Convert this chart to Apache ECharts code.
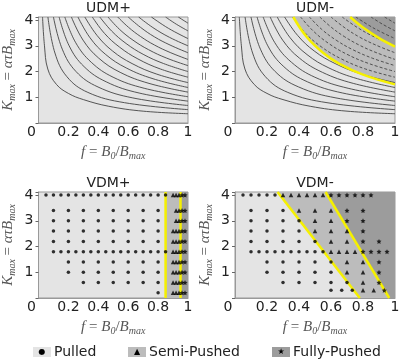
<!DOCTYPE html>
<html>
<head>
<meta charset="utf-8">
<script src="https://cdn.jsdelivr.net/npm/echarts@6/dist/echarts.min.js"></script>
<style>
  html, body { margin: 0; padding: 0; background: #fff; }
  #chart { width: 415px; height: 360px; }
</style>
</head>
<body>
<div id="chart"></div>
<script>
  // panel titles and legend
  var titles = ['UDM+', 'UDM-', 'VDM+', 'VDM-'];
  var legendNames = ['Pulled', 'Semi-Pushed', 'Fully-Pushed'];
  var kTop = 4.12;

  // contour lines of the UDM panels, [f, K]
  var udmCurves = [
    [[0.027, 4.12], [0.04, 3.0], [0.062, 2.1], [0.12, 1.5], [0.2, 1.15], [0.3, 0.91], [0.47, 0.65], [0.7, 0.46], [1, 0.36]],
    [[0.063, 4.12], [0.11, 2.72], [0.19, 1.8], [0.33, 1.19], [0.575, 0.79], [1, 0.52]],
    [[0.1, 4.12], [0.159, 2.87], [0.251, 2.0], [0.398, 1.4], [0.631, 0.975], [1, 0.68]],
    [[0.138, 4.12], [0.205, 3.0], [0.305, 2.19], [0.453, 1.6], [0.673, 1.165], [1, 0.85]],
    [[0.176, 4.12], [0.249, 3.12], [0.353, 2.36], [0.499, 1.78], [0.707, 1.35], [1, 1.02]],
    [[0.22, 4.12], [0.298, 3.22], [0.403, 2.52], [0.546, 1.97], [0.739, 1.54], [1, 1.2]],
    [[0.264, 4.12], [0.345, 3.31], [0.45, 2.66], [0.587, 2.14], [0.766, 1.72], [1, 1.38]],
    [[0.31, 4.12], [0.392, 3.4], [0.495, 2.8], [0.626, 2.31], [0.791, 1.9], [1, 1.57]],
    [[0.36, 4.12], [0.442, 3.48], [0.542, 2.95], [0.665, 2.49], [0.815, 2.1], [1, 1.78]],
    [[0.41, 4.12], [0.49, 3.57], [0.586, 3.09], [0.7, 2.67], [0.837, 2.31], [1, 2.0]],
    [[0.465, 4.12], [0.542, 3.64], [0.632, 3.22], [0.736, 2.85], [0.858, 2.52], [1, 2.23]],
    [[0.53, 4.12], [0.602, 3.72], [0.683, 3.36], [0.776, 3.03], [0.881, 2.74], [1, 2.47]],
    [[0.6, 4.12], [0.682, 3.72], [0.775, 3.35], [0.88, 3.03], [1, 2.73]],
    [[0.67, 4.12], [0.765, 3.71], [0.876, 3.33], [1, 3.0]],
    [[0.755, 4.12], [0.869, 3.68], [1, 3.28]],
    [[0.85, 4.12], [0.922, 3.84], [1, 3.58]],
    [[0.935, 4.12], [0.967, 4.0], [1, 3.88]]
  ];
  var udmMinusSolidCount = 8;

  // yellow borders
  var udmMinusBorder1 = [[0.364, 4.12], [0.45, 3.33], [0.55, 2.73], [0.65, 2.31], [0.8, 1.88], [1, 1.5]];
  var udmMinusBorder2 = [[0.72, 4.12], [0.8, 3.71], [0.9, 3.3], [1, 2.97]];
  var vdmPlusBorder1 = [[0.85, 0], [0.85, 4.12]];
  var vdmPlusBorder2 = [[0.95, 0], [0.95, 4.12]];
  var vdmMinusBorder1 = [[0.266, 4.12], [0.78, 0]];
  var vdmMinusBorder2 = [[0.566, 4.12], [0.964, 0]];

  // VDM+ simulations: K of each row, f of the markers in that row
  var vdmPlusRows = [4, 3.4, 3, 2.6, 2.2, 1.8, 1.4, 1, 0.6, 0.2];
  var vdmPlusPulled = [
    [0.05, 0.1, 0.15, 0.2, 0.25, 0.3, 0.35, 0.4, 0.45, 0.5, 0.55, 0.6, 0.65, 0.7, 0.75, 0.8, 0.85],
    [0.1, 0.2, 0.3, 0.4, 0.5, 0.6, 0.7, 0.8],
    [0.1, 0.2, 0.3, 0.4, 0.5, 0.6, 0.7, 0.8],
    [0.1, 0.2, 0.3, 0.4, 0.5, 0.6, 0.7, 0.8],
    [0.1, 0.2, 0.3, 0.4, 0.5, 0.6, 0.7, 0.8],
    [0.1, 0.15, 0.2, 0.25, 0.3, 0.35, 0.4, 0.45, 0.5, 0.55, 0.6, 0.65, 0.7, 0.75, 0.8, 0.85],
    [0.2, 0.3, 0.4, 0.5, 0.6, 0.7, 0.8],
    [0.2, 0.3, 0.4, 0.5, 0.6, 0.7, 0.8],
    [0.3, 0.4, 0.5, 0.6, 0.7, 0.8],
    [0.8]
  ];
  var vdmPlusSemi = [
    [0.9, 0.92, 0.94], [0.92, 0.94], [0.92, 0.94], [0.9, 0.92, 0.94], [0.9, 0.92, 0.94],
    [0.9, 0.92, 0.94], [0.9, 0.92, 0.94], [0.9, 0.92, 0.94], [0.9, 0.92, 0.94], [0.9, 0.92, 0.94]
  ];
  var vdmPlusFully = [
    [0.96, 0.98], [0.96, 0.98], [0.96, 0.98], [0.96, 0.98], [0.96, 0.98],
    [0.96, 0.98], [0.96, 0.98], [0.96, 0.98], [0.96, 0.98], [0.96, 0.98]
  ];

  // VDM- simulations
  var vdmMinusRows = [4, 3.4, 3, 2.6, 2.2, 1.8, 1.4, 1, 0.6, 0.3];
  var vdmMinusPulled = [
    [0.05, 0.1, 0.15, 0.2, 0.25],
    [0.1, 0.2, 0.3],
    [0.1, 0.2, 0.3, 0.4],
    [0.1, 0.2, 0.3, 0.4],
    [0.1, 0.2, 0.3, 0.4, 0.5],
    [0.1, 0.15, 0.2, 0.25, 0.3, 0.35, 0.4, 0.45, 0.5, 0.55],
    [0.2, 0.3, 0.4, 0.5, 0.6],
    [0.2, 0.3, 0.4, 0.5, 0.6],
    [0.3, 0.4, 0.5, 0.6, 0.7],
    [0.6, 0.667, 0.733]
  ];
  var vdmMinusSemi = [
    [0.3, 0.35, 0.4, 0.45, 0.5, 0.55],
    [0.4, 0.5, 0.6],
    [0.5, 0.6],
    [0.5, 0.6, 0.7],
    [0.6, 0.7],
    [0.6, 0.65, 0.7, 0.75],
    [0.7, 0.8],
    [0.7, 0.8],
    [0.8],
    [0.8, 0.867]
  ];
  var vdmMinusFully = [
    [0.6, 0.65, 0.7, 0.75, 0.8, 0.85],
    [0.7, 0.8],
    [0.7, 0.8],
    [0.8],
    [0.8, 0.9],
    [0.8, 0.85, 0.9, 0.95],
    [0.9],
    [0.9],
    [0.9],
    [0.933]
  ];

  var LIGHT = '#e4e4e4', MID = '#bcbcbc', DARK = '#9c9c9c', YELLOW = '#f5f000';
  var STAR = 'path://M0,-10L2.9,-4L9.5,-3.1L4.7,1.5L5.9,8.1L0,5L-5.9,8.1L-4.7,1.5L-9.5,-3.1L-2.9,-4Z';
  var FONT = 'DejaVu Sans';

  var chart = echarts.init(document.getElementById('chart'));

  var gridPos = [
    {left: 29, top: 17, width: 159, height: 106},
    {left: 235, top: 17, width: 160, height: 106},
    {left: 29, top: 192, width: 159, height: 106},
    {left: 235, top: 192, width: 160, height: 106}
  ];

  var nameRich = {
    i: {fontFamily: 'Liberation Serif', fontStyle: 'italic', fontSize: 15, lineHeight: 18, color: '#555'},
    n: {fontFamily: 'Liberation Serif', fontSize: 15, lineHeight: 18, color: '#555'},
    s: {fontFamily: 'Liberation Serif', fontStyle: 'italic', fontSize: 10, lineHeight: 10, verticalAlign: 'bottom', color: '#555'}
  };

  function toPoints(rows, lists) {
    var pts = []
    rows.forEach(function (k, i) {
      lists[i].forEach(function (f) { pts.push([f, k]) })
    })
    return pts
  }

  function areaSeries(gi, data, color, smooth) {
    return {
      type: 'line', xAxisIndex: gi, yAxisIndex: gi, data: data, smooth: smooth || false,
      symbol: 'none', silent: true, z: 1,
      lineStyle: {width: 0},
      areaStyle: {color: color, opacity: 1, origin: 'end'}
    }
  }

  function lineSeries(gi, data, color, width, type, smooth, z) {
    return {
      type: 'line', xAxisIndex: gi, yAxisIndex: gi, data: data, smooth: smooth || false,
      symbol: 'none', silent: true, z: z || 3,
      lineStyle: {color: color, width: width, type: type || 'solid'}
    }
  }

  function scatterSeries(gi, data, symbol, size) {
    return {
      type: 'scatter', xAxisIndex: gi, yAxisIndex: gi, data: data,
      symbol: symbol, symbolSize: size, silent: true, z: 5,
      itemStyle: {color: '#000'}
    }
  }

  var series = []
  // UDM+
  udmCurves.forEach(function (c) { series.push(lineSeries(0, c, '#444', 0.9, 'solid', 0.4)) })
  // UDM-
  series.push(areaSeries(1, udmMinusBorder1, MID, 0.4))
  series.push(areaSeries(1, udmMinusBorder2, DARK, 0.4))
  udmCurves.forEach(function (c, i) {
    series.push(lineSeries(1, c, '#444', 0.9, i < udmMinusSolidCount ? 'solid' : [3, 2], 0.4))
  })
  series.push(lineSeries(1, udmMinusBorder1, YELLOW, 2.5, 'solid', 0.4, 4))
  series.push(lineSeries(1, udmMinusBorder2, YELLOW, 2.5, 'solid', 0.4, 4))
  // VDM+
  series.push(areaSeries(2, [[vdmPlusBorder1[0][0], 0], [1, 0]], MID))
  series.push(areaSeries(2, [[vdmPlusBorder2[0][0], 0], [1, 0]], DARK))
  series.push(lineSeries(2, vdmPlusBorder1, YELLOW, 2.5, 'solid', false, 4))
  series.push(lineSeries(2, vdmPlusBorder2, YELLOW, 2.5, 'solid', false, 4))
  series.push(scatterSeries(2, toPoints(vdmPlusRows, vdmPlusPulled), 'circle', 3.5))
  series.push(scatterSeries(2, toPoints(vdmPlusRows, vdmPlusSemi), 'triangle', 4.5))
  series.push(scatterSeries(2, toPoints(vdmPlusRows, vdmPlusFully), STAR, 5))
  // VDM-
  series.push(areaSeries(3, vdmMinusBorder1.concat([[1, 0]]), MID))
  series.push(areaSeries(3, vdmMinusBorder2.concat([[1, 0]]), DARK))
  series.push(lineSeries(3, vdmMinusBorder1, YELLOW, 2.5, 'solid', false, 4))
  series.push(lineSeries(3, vdmMinusBorder2, YELLOW, 2.5, 'solid', false, 4))
  series.push(scatterSeries(3, toPoints(vdmMinusRows, vdmMinusPulled), 'circle', 3.5))
  series.push(scatterSeries(3, toPoints(vdmMinusRows, vdmMinusSemi), 'triangle', 4.5))
  series.push(scatterSeries(3, toPoints(vdmMinusRows, vdmMinusFully), STAR, 5))

  var graphics = []
  titles.forEach(function (t, i) {
    var g = gridPos[i]
    graphics.push({
      type: 'text', x: g.left + g.width / 2, y: g.top - 9,
      style: {text: t, font: '14px ' + FONT, fill: '#222', align: 'center', verticalAlign: 'middle'}
    })
  })
  var legendX = [33, 128, 272]
  var legendFill = [LIGHT, MID, DARK]
  var legendGlyph = ['●', '▲', '★']
  legendNames.forEach(function (n, i) {
    graphics.push({type: 'rect', shape: {x: legendX[i], y: 347, width: 18, height: 10}, style: {fill: legendFill[i]}})
    graphics.push({
      type: 'text', x: legendX[i] + 9, y: 352,
      style: {text: legendGlyph[i], font: '8px ' + FONT, fill: '#000', align: 'center', verticalAlign: 'middle'}
    })
    graphics.push({
      type: 'text', x: legendX[i] + 21, y: 352,
      style: {text: n, font: '14px ' + FONT, fill: '#222', align: 'left', verticalAlign: 'middle'}
    })
  })

  chart.setOption({
    animation: false,
    grid: gridPos.map(function (g) {
      return Object.assign({show: true, backgroundColor: LIGHT, borderColor: '#999', borderWidth: 1}, g)
    }),
    xAxis: gridPos.map(function (g, i) {
      return {
        type: 'value', gridIndex: i, min: 0, max: 1, interval: 0.2,
        name: '{i|f}{n| = }{i|B}{s|0}{n|/}{i|B}{s|max}',
        nameLocation: 'middle', nameGap: 20,
        nameTextStyle: {rich: nameRich},
        axisLine: {lineStyle: {color: '#999'}},
        axisTick: {show: false},
        splitLine: {show: false},
        axisLabel: {
          color: '#222', fontSize: 14, fontFamily: FONT, margin: 2,
          formatter: function (v) { return v === 0 ? '{z|0}' : String(Math.round(v * 10) / 10) },
          rich: {z: {color: '#222', fontSize: 14, fontFamily: FONT, padding: [0, 14, 0, 0]}}
        }
      }
    }),
    yAxis: gridPos.map(function (g, i) {
      return {
        type: 'value', gridIndex: i, min: 0, max: kTop, interval: 1,
        name: '{i|K}{s|max}{n| = }{i|ατB}{s|max}',
        nameLocation: 'middle', nameGap: 21,
        nameTextStyle: {rich: nameRich},
        axisLine: {lineStyle: {color: '#999'}},
        axisTick: {show: true, length: 3, lineStyle: {color: '#666'}},
        splitLine: {show: false},
        axisLabel: {
          color: '#222', fontSize: 14, fontFamily: FONT, margin: 5,
          formatter: function (v) { return (v >= 1 && v <= 4 && v % 1 === 0) ? String(v) : '' }
        }
      }
    }),
    series: series,
    graphic: graphics
  })
</script>
</body>
</html>
